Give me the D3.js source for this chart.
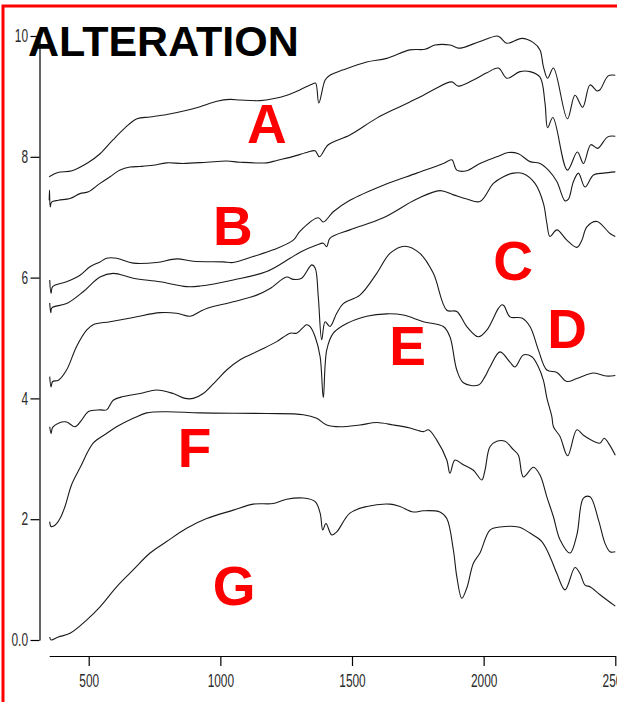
<!DOCTYPE html>
<html>
<head>
<meta charset="utf-8">
<script src="https://cdn.jsdelivr.net/npm/d3@7"></script>
<style>
  html, body { margin: 0; padding: 0; background: #fff; }
  svg { display: block; }
</style>
</head>
<body>
<div id="chart"></div>
<script>
'use strict';

// spectra, [wavelength nm, offset reflectance]
var curveA = [[350,7.67],[383,7.74],[437,7.77],[497,7.90],[543,8.05],[592,8.28],[638,8.48],[683,8.63],[733,8.66],[797,8.70],[873,8.77],[923,8.83],[987,8.92],[1037,8.95],[1075,8.94],[1151,8.93],[1200,8.96],[1253,9.02],[1303,9.11],[1352,9.21],[1362,9.22],[1374,8.89],[1398,9.27],[1416,9.35],[1467,9.44],[1556,9.57],[1632,9.63],[1720,9.77],[1777,9.78],[1815,9.85],[1872,9.85],[1904,9.80],[1923,9.81],[1986,9.91],[2050,10.0],[2062,9.98],[2088,9.88],[2145,9.96],[2189,9.89],[2214,9.77],[2227,9.49],[2243,9.30],[2265,9.47],[2318,8.63],[2347,9.02],[2376,8.82],[2404,9.19],[2431,9.09],[2442,9.11],[2473,9.34],[2500,9.35]];

var curveB = [[350,7.28],[351,7.45],[354,7.17],[359,7.25],[385,7.28],[429,7.31],[467,7.39],[499,7.42],[543,7.56],[581,7.67],[619,7.78],[657,7.83],[695,7.84],[744,7.86],[796,7.90],[858,7.89],[948,7.91],[1024,7.93],[1075,7.91],[1176,7.90],[1214,7.94],[1265,7.99],[1328,8.07],[1360,8.10],[1376,8.00],[1410,8.20],[1492,8.36],[1594,8.64],[1682,8.83],[1758,8.99],[1809,9.11],[1879,9.24],[1904,9.17],[1961,9.27],[2012,9.39],[2056,9.47],[2088,9.30],[2138,9.41],[2176,9.41],[2214,9.32],[2233,8.89],[2243,8.48],[2263,8.65],[2318,7.78],[2356,8.08],[2379,7.89],[2407,8.20],[2433,8.14],[2471,8.33],[2500,8.34]];

var curveC = [[352,5.96],[357,5.74],[363,5.85],[416,5.93],[467,6.04],[505,6.18],[543,6.26],[568,6.32],[606,6.32],[669,6.24],[758,6.25],[834,6.31],[897,6.27],[1011,6.26],[1049,6.25],[1125,6.35],[1201,6.46],[1277,6.62],[1303,6.77],[1372,6.99],[1391,6.92],[1429,7.09],[1492,7.28],[1619,7.53],[1746,7.73],[1847,7.89],[1879,7.95],[1898,7.78],[1936,7.77],[1986,7.89],[2050,8.00],[2094,8.07],[2132,8.05],[2176,7.92],[2214,7.89],[2246,7.78],[2278,7.59],[2309,7.27],[2322,7.30],[2341,7.59],[2360,7.73],[2385,7.50],[2417,7.70],[2455,7.73],[2500,7.75]];

var curveD = [[352,5.58],[356,5.42],[360,5.50],[416,5.57],[480,5.77],[543,6.01],[593,6.07],[669,5.99],[771,5.93],[872,5.85],[923,5.86],[1049,5.96],[1176,6.10],[1265,6.32],[1303,6.42],[1366,6.54],[1391,6.57],[1404,6.51],[1416,6.65],[1492,6.79],[1619,6.99],[1746,7.30],[1834,7.44],[1885,7.37],[1936,7.30],[1986,7.26],[2037,7.56],[2075,7.67],[2113,7.73],[2151,7.72],[2195,7.56],[2227,7.23],[2240,6.90],[2252,6.68],[2278,6.79],[2316,6.62],[2354,6.50],[2373,6.62],[2392,6.84],[2430,6.93],[2480,6.73],[2500,6.68]];

var curveE = [[352,4.36],[357,4.19],[363,4.28],[385,4.30],[416,4.47],[454,4.86],[492,5.13],[517,5.22],[581,5.27],[669,5.34],[771,5.42],[834,5.41],[885,5.36],[923,5.44],[948,5.49],[1049,5.60],[1138,5.71],[1189,5.82],[1252,6.01],[1277,5.97],[1309,5.99],[1347,6.21],[1360,6.16],[1372,5.68],[1385,4.97],[1398,5.27],[1416,5.19],[1442,5.41],[1467,5.57],[1530,5.71],[1594,6.07],[1644,6.40],[1701,6.52],[1758,6.40],[1809,6.07],[1860,5.46],[1898,5.44],[1936,5.19],[1980,5.02],[2012,5.13],[2056,5.49],[2069,5.55],[2078,5.53],[2100,5.35],[2145,5.33],[2176,5.19],[2208,4.80],[2240,4.47],[2278,4.43],[2316,4.28],[2354,4.33],[2417,4.42],[2467,4.37],[2500,4.38]];

var curveF = [[352,3.53],[357,3.42],[363,3.52],[385,3.59],[416,3.61],[448,3.53],[473,3.64],[498,3.78],[543,3.81],[568,3.81],[593,3.97],[631,4.03],[695,4.08],[758,4.14],[821,4.08],[866,4.00],[897,4.00],[935,4.08],[986,4.30],[1024,4.47],[1075,4.64],[1151,4.80],[1214,4.94],[1265,5.08],[1290,5.08],[1328,5.22],[1341,5.19],[1360,5.02],[1379,4.69],[1391,4.01],[1404,4.80],[1429,5.08],[1480,5.24],[1556,5.36],[1632,5.40],[1695,5.38],[1771,5.27],[1847,5.19],[1872,5.02],[1898,4.47],[1923,4.26],[1980,4.22],[2005,4.36],[2024,4.52],[2062,4.77],[2100,4.60],[2119,4.52],[2151,4.72],[2183,4.69],[2208,4.52],[2227,4.30],[2240,4.01],[2259,3.70],[2265,3.53],[2290,3.37],[2319,3.05],[2354,3.48],[2379,3.39],[2423,3.28],[2442,3.26],[2458,3.34],[2474,3.26],[2500,3.06]];

var curveG1 = [[352,1.96],[357,1.88],[372,1.90],[391,2.01],[410,2.21],[435,2.57],[467,2.85],[517,3.26],[568,3.42],[606,3.53],[669,3.67],[720,3.76],[796,3.78],[923,3.76],[1176,3.75],[1315,3.73],[1366,3.67],[1404,3.56],[1455,3.53],[1530,3.56],[1594,3.60],[1657,3.56],[1720,3.51],[1771,3.45],[1790,3.48],[1822,3.31],[1860,2.98],[1872,2.76],[1891,2.98],[1923,2.90],[1961,2.81],[1993,2.65],[2005,2.81],[2024,3.20],[2050,3.29],[2081,3.29],[2113,3.15],[2132,3.06],[2151,2.70],[2189,2.86],[2214,2.73],[2240,2.37],[2265,2.04],[2290,1.66],[2328,1.44],[2354,1.74],[2379,2.35],[2404,2.37],[2436,1.99],[2461,1.60],[2480,1.46],[2500,1.46]];

var curveG2 = [[352,0.05],[357,0.0],[385,0.05],[429,0.11],[492,0.33],[543,0.55],[606,0.88],[669,1.16],[733,1.44],[796,1.63],[872,1.85],[948,2.01],[1049,2.15],[1125,2.25],[1201,2.26],[1252,2.33],[1315,2.35],[1360,2.29],[1379,2.10],[1389,1.82],[1401,1.93],[1423,1.74],[1442,1.79],[1492,2.10],[1556,2.21],[1644,2.25],[1682,2.21],[1733,2.12],[1771,2.14],[1834,2.12],[1860,2.01],[1885,1.49],[1898,1.05],[1917,0.69],[1936,0.86],[1961,1.27],[1986,1.44],[2024,1.82],[2062,1.87],[2132,1.87],[2176,1.77],[2221,1.63],[2252,1.38],[2278,1.10],[2309,0.83],[2347,1.20],[2366,1.10],[2385,0.91],[2404,0.88],[2442,0.75],[2500,0.56]];

var spectra = [curveA, curveB, curveC, curveD, curveE, curveF, curveG1, curveG2];

var xTicks = [500, 1000, 1500, 2000, 2500];
var yTicks = [0, 2, 4, 6, 8, 10];
var yTickLabels = ["0.0", "2", "4", "6", "8", "10"];

var letters = ["A", "B", "C", "D", "E", "F", "G"];
var letterSpots = [[1177, 8.23], [1048, 6.54], [2112, 5.96], [2317, 4.83], [1711, 4.55], [902, 2.86], [1052, 0.58]];

var title = "ALTERATION";

var W = 617, H = 702;

var svg = d3.select("#chart")
  .append("svg")
  .attr("width", W)
  .attr("height", H);

svg.append("rect")
  .attr("width", W)
  .attr("height", H)
  .attr("fill", "#fff");

var x = d3.scaleLinear()
  .domain([350, 2500])
  .range([49.2, 615.3]);

var y = d3.scaleLinear()
  .domain([0, 10])
  .range([640, 36]);

var squeeze = 0.68;

// x axis sits below the plot, detached from y axis
var gx = svg.append("g")
  .attr("transform", "translate(0,656)")
  .call(d3.axisBottom(x).tickValues(xTicks).tickSize(10).tickSizeOuter(0).tickPadding(9)
    .tickFormat(d3.format("d")));

var gy = svg.append("g")
  .attr("transform", "translate(39.5,0)")
  .call(d3.axisLeft(y).tickValues(yTicks).tickSize(9).tickSizeOuter(0)
    .tickFormat(function(d, i) { return yTickLabels[i]; }));

[gx, gy].forEach(function(g) {
  g.select(".domain").attr("stroke", "#000").attr("stroke-width", 1.2);
  g.selectAll(".tick line").attr("stroke", "#000").attr("stroke-width", 1.2);
  g.selectAll(".tick text")
    .attr("fill", "#2a2a2a")
    .style("font-family", "'Liberation Sans', Arial, sans-serif")
    .style("font-size", "17.5px");
});

// narrow tick glyphs
gx.selectAll(".tick text").attr("transform", "scale(" + squeeze + ",1)");
gy.selectAll(".tick text")
  .attr("x", -11.5 / squeeze)
  .attr("transform", "scale(" + squeeze + ",1)");

var line = d3.line()
  .x(function(d) { return x(d[0]); })
  .y(function(d) { return y(d[1]); })
  .curve(d3.curveCatmullRom.alpha(0.5));

svg.append("g")
  .selectAll("path")
  .data(spectra)
  .enter()
  .append("path")
  .attr("d", line)
  .attr("fill", "none")
  .attr("stroke", "#1a1a1a")
  .attr("stroke-width", 1.1)
  .attr("stroke-linejoin", "round");

svg.append("g")
  .selectAll("text")
  .data(letters)
  .enter()
  .append("text")
  .attr("x", function(d, i) { return x(letterSpots[i][0]); })
  .attr("y", function(d, i) { return y(letterSpots[i][1]); })
  .attr("text-anchor", "middle")
  .attr("fill", "#ff0000")
  .style("font-family", "'Liberation Sans', Arial, sans-serif")
  .style("font-weight", "bold")
  .style("font-size", "55px")
  .text(function(d) { return d; });

svg.append("text")
  .attr("x", 28)
  .attr("y", 56)
  .attr("fill", "#000")
  .style("font-family", "'Liberation Sans', Arial, sans-serif")
  .style("font-weight", "bold")
  .style("font-size", "43px")
  .text(title);

// red frame, clipped at right and bottom
svg.append("rect")
  .attr("x", 3)
  .attr("y", 6)
  .attr("width", 1000)
  .attr("height", 1000)
  .attr("fill", "none")
  .attr("stroke", "#ff0000")
  .attr("stroke-width", 3);
</script>
</body>
</html>
